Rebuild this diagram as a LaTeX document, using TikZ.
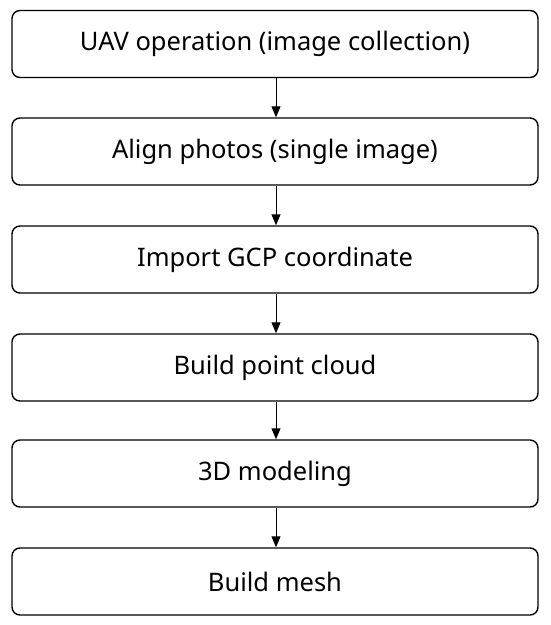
\documentclass[tikz,border=0pt]{standalone}
\usepackage{fontspec}
\setmainfont{Noto Sans}
\usetikzlibrary{arrows.meta}
\begin{document}
\begin{tikzpicture}[x=1pt,y=-1pt,
  stepbox/.style={draw=black,line width=1.4pt,rounded corners=8pt,minimum width=526pt,minimum height=67pt,inner sep=0pt,font=\fontsize{25.5}{30}\selectfont},
  conn/.style={line width=1pt,-{Triangle[length=11pt,width=9pt]}}]
\useasboundingbox (0,0) rectangle (550,625);
\node[stepbox] (a) at (275,44) {UAV operation (image collection)};
\node[stepbox] (b) at (275,151.5) {Align photos (single image)};
\node[stepbox] (c) at (275,259.5) {Import GCP coordinate};
\node[stepbox] (d) at (275,367.5) {Build point cloud};
\node[stepbox] (e) at (275,473.5) {3D modeling};
\node[stepbox] (f) at (275,581.5) {Build mesh};
\foreach \u/\v in {a/b,b/c,c/d,d/e,e/f}{
  \draw[conn] ([xshift=1pt]\u.south) -- ([xshift=1pt]\v.north);
}
\end{tikzpicture}
\end{document}
